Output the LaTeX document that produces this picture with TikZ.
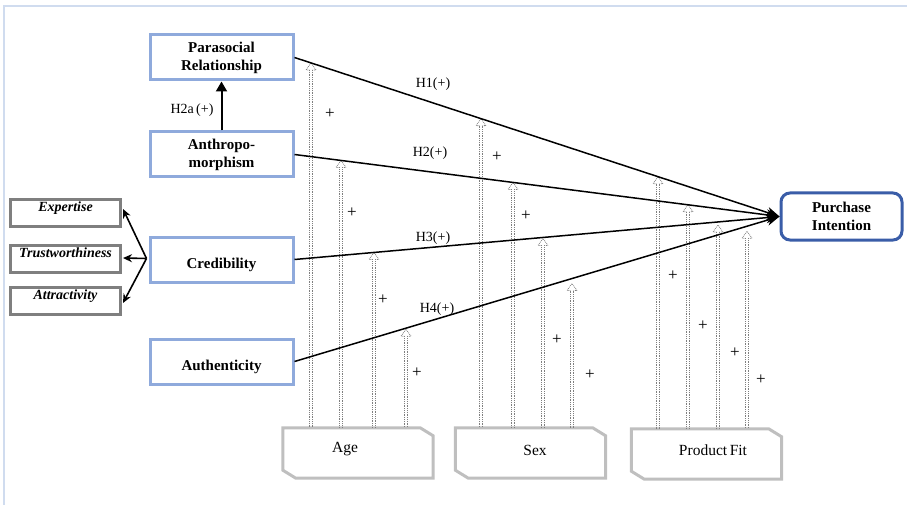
\documentclass[tikz,border=0pt]{standalone}
\usepackage{fontspec}
\setmainfont{Liberation Serif}
\usetikzlibrary{calc,arrows.meta}
\definecolor{lblue}{HTML}{8FAADC}
\definecolor{dblue}{HTML}{3A5DA8}
\definecolor{frameblue}{HTML}{D0DCEF}
\definecolor{boxgray}{HTML}{7F7F7F}
\definecolor{modgray}{HTML}{BFBFBF}
\definecolor{dotgray}{HTML}{7F7F7F}
\newcommand\modarr[5]{%
  \coordinate (#1x) at (intersection of #3.east--pi.west and #2,0--#2,600);
  \coordinate (#1) at ($(#1x)+(0,#5)$);
  \draw[modline] ($(#1)+(-1.6,7)$) -- ($(#1 |- #4.north)+(-1.6,0)$);
  \draw[modline] ($(#1)+(1.6,7)$) -- ($(#1 |- #4.north)+(1.6,0)$);
  \draw[modline] ($(#1)+(-1.6,7)$) -- ($(#1)+(-5,7)$) -- (#1) -- ($(#1)+(5,7)$) -- ($(#1)+(1.6,7)$);
}
\newcommand\modshape[1]{%
  \draw[modbox] (#1.north west) -- ($(#1.north east)+(-13,0)$) -- ($(#1.north east)+(0,8)$)
    -- (#1.south east) -- ($(#1.south west)+(13,0)$) -- ($(#1.south west)+(0,-8)$) -- cycle;
}
\begin{document}
\begin{tikzpicture}[x=1pt,y=-1pt,
  construct/.style={draw=lblue, line width=3pt, fill=white, minimum width=143pt, minimum height=45pt,
    inner sep=0pt, align=center, font=\fontsize{15}{18}\selectfont\bfseries},
  oneline/.style={text height=20pt, text depth=3pt},
  dimbox/.style={draw=boxgray, line width=3pt, fill=white, minimum width=110pt, minimum height=27pt,
    inner sep=0pt, text height=10pt, text depth=13pt, font=\fontsize{14}{15}\selectfont\bfseries\itshape},
  target/.style={draw=dblue, line width=3pt, fill=white, rounded corners=9pt, minimum width=121pt,
    minimum height=47pt, inner sep=0pt, align=center, font=\fontsize{15}{18}\selectfont\bfseries},
  modnode/.style={minimum width=150pt, minimum height=50pt, inner sep=0pt},
  modtext/.style={inner sep=0pt, font=\fontsize{15.5}{18}\selectfont},
  modbox/.style={draw=modgray, line width=3pt, line join=miter},
  hyp/.style={line width=1.5pt, -{Stealth[length=13pt,width=11pt]}},
  hlabel/.style={inner sep=0pt, font=\fontsize{14}{16}\selectfont},
  plus/.style={inner sep=0pt, font=\fontsize{17}{18}\selectfont},
  modline/.style={draw=dotgray, line width=0.8pt, densely dotted},
  branch/.style={line width=1.6pt, -{Stealth[length=9pt,width=8pt]}},
]
\useasboundingbox (0,0) rectangle (907,505);
\draw[frameblue, line width=1.5pt] (4,505) -- (4,6) -- (907,6);

% constructs
\node[construct] (pr) at (221.5,57.5) {Parasocial\\Relationship};
\node[construct] (an) at (221.5,154.5) {Anthropo-\\morphism};
\node[construct, oneline] (cr) at (221.5,259.5) {Credibility};
\node[construct, oneline] (au) at (221.5,361.5) {Authenticity};
\node[target] (pi) at (841.5,216.5) {Purchase\\Intention};

% credibility dimensions
\node[dimbox] (ex) at (65.5,213) {Expertise};
\node[dimbox] (tr) at (65.5,259) {Trustworthiness};
\node[dimbox] (at) at (65.5,301) {Attractivity};
\coordinate (cb) at ($(cr.west)+(-2,-1)$);
\draw[branch] (cb) -- ($(ex.east)+(1,-4)$);
\draw[branch] (cb) -- ($(tr.east)+(1,-1)$);
\draw[branch] (cb) -- ($(at.east)+(1,2)$);

% moderators
\node[modnode] (age) at (358,453) {};
\node[modnode] (sex) at (530.5,453) {};
\node[modnode] (pf) at (706.5,454) {};
\modshape{age}
\modshape{sex}
\modshape{pf}
\node[modtext] (agetext) at (345,449) {Age};
\node[modtext] (sextext) at (535,450) {Sex};
\node[modtext] (pftext) at (713,450) {Product\,Fit};

\foreach \nm/\xx/\src/\bx/\g in {
  a1/311/pr/age/0, a2/341/an/age/0, a3/374/cr/age/0, a4/406/au/age/1,
  s1/481/pr/sex/0, s2/513/an/sex/0, s3/543/cr/sex/1, s4/572/au/sex/5,
  p1/658/pr/pf/0, p2/688/an/pf/0, p3/718/cr/pf/3, p4/747/au/pf/5}
  {\modarr{\nm}{\xx}{\src}{\bx}{\g}}

% hypotheses
\draw[hyp] (pr.east) -- (pi.west);
\draw[hyp] (an.east) -- (pi.west);
\draw[hyp] (cr.east) -- (pi.west);
\draw[hyp] (au.east) -- (pi.west);
\draw[line width=2pt, -{Triangle[length=10pt,width=11pt]}] (an.north) -- (pr.south);

\node[hlabel] (h2a) at (192,110) {H2a\,(+)};
\node[hlabel] (h1) at (433,84) {H1(+)};
\node[hlabel] (h2) at (430,153) {H2(+)};
\node[hlabel] (h3) at (433,238) {H3(+)};
\node[hlabel] (h4) at (437,309) {H4(+)};

% plus signs
\node[plus] (pa1) at (330,114) {+};
\node[plus] (pa2) at (352,213) {+};
\node[plus] (pa3) at (383,300) {+};
\node[plus] (pa4) at (417,373) {+};
\node[plus] (ps1) at (497,157) {+};
\node[plus] (ps2) at (526,216) {+};
\node[plus] (ps3) at (557,340) {+};
\node[plus] (ps4) at (590,375) {+};
\node[plus] (pp1) at (673,276) {+};
\node[plus] (pp2) at (703,326) {+};
\node[plus] (pp3) at (735,353) {+};
\node[plus] (pp4) at (761,380) {+};
\end{tikzpicture}
\end{document}
